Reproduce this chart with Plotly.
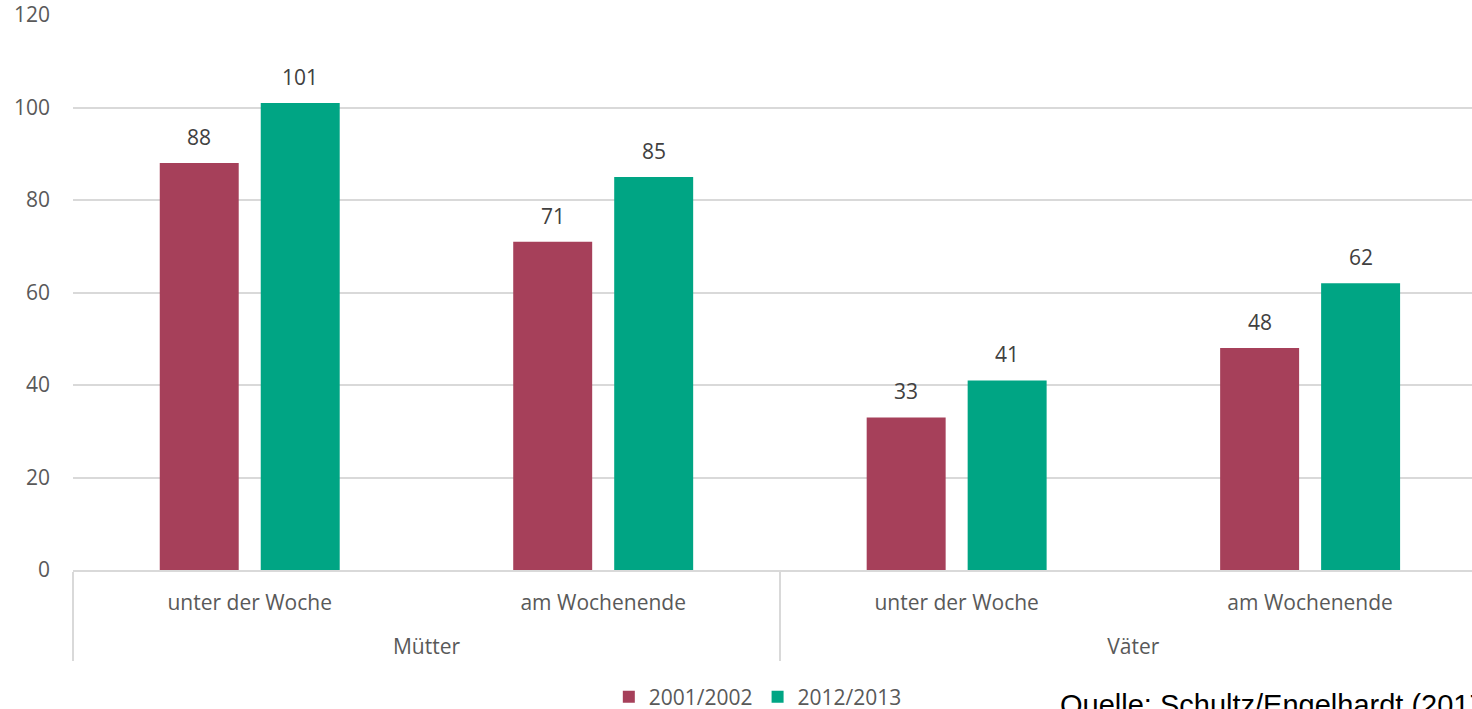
import plotly.graph_objects as go

# Betreuungszeit je Elternteil und Wochenabschnitt
parents = ["Mütter", "Mütter", "Väter", "Väter"]
periods = ["unter der Woche", "am Wochenende", "unter der Woche", "am Wochenende"]
values_2001 = [88, 71, 33, 48]
values_2012 = [101, 85, 41, 62]
series_names = ["2001/2002", "2012/2013"]
series_colors = ["#A6405A", "#00A584"]
y_ticks = [0, 20, 40, 60, 80, 100, 120]

FONT = "Open Sans"
TICK_COLOR = "#595959"
LABEL_COLOR = "#404040"
GRID = "#d9d9d9"

BARGAP = 0.4286
BARGROUPGAP = 0.218

# parent row sits one text line lower than the period row
parent_labels = ["<br>" + p for p in parents]

fig = go.Figure()
for name, vals, color in zip(series_names, [values_2001, values_2012], series_colors):
    fig.add_trace(go.Bar(
        x=[parent_labels, periods],
        y=vals,
        name=name,
        marker=dict(color=color, line=dict(width=0)),
        hoverinfo="skip",
    ))

# value labels above each bar
slot = (1 - BARGAP) / 2
offsets = [-slot / 2, slot / 2]
annotations = []
for off, vals in zip(offsets, [values_2001, values_2012]):
    for i, v in enumerate(vals):
        annotations.append(dict(
            x=i + off, y=v, xref="x", yref="y",
            text=str(v), showarrow=False,
            yanchor="bottom", yshift=10,
            font=dict(family=FONT, size=21, color=LABEL_COLOR),
        ))

annotations.append(dict(
    x=(1058 - 73) / 1399, y=-0.2108, xref="paper", yref="paper",
    xanchor="left", yanchor="top",
    text="Quelle: Schultz/Engelhardt (2017)", showarrow=False,
    font=dict(family="Liberation Sans", size=29, color="#000000"),
))

fig.update_layout(
    width=1472, height=709,
    margin=dict(l=73, r=0, t=15, b=139, autoexpand=False),
    paper_bgcolor="white", plot_bgcolor="white",
    barmode="group", bargap=BARGAP, bargroupgap=BARGROUPGAP,
    font=dict(family=FONT, size=21, color=TICK_COLOR),
    showlegend=True,
    legend=dict(
        orientation="h", x=0.383, xanchor="left",
        yref="container", y=(709 - 697) / 709, yanchor="middle",
        font=dict(family=FONT, size=21, color=TICK_COLOR),
        traceorder="normal",
    ),
    annotations=annotations,
)

fig.update_xaxes(
    type="multicategory",
    range=[-0.5, 3.458],
    automargin=False,
    showline=True, linecolor=GRID, linewidth=1.5,
    showdividers=True, dividercolor=GRID, dividerwidth=1.5,
    ticklabelstandoff=13,
    tickfont=dict(family=FONT, size=21, color=TICK_COLOR),
    showgrid=False, zeroline=False,
)
fig.update_yaxes(
    range=[0, 120], tickvals=y_ticks,
    automargin=False,
    showgrid=True, gridcolor=GRID, gridwidth=1.5,
    zeroline=False, showline=False,
    ticklabelstandoff=22,
    tickfont=dict(family=FONT, size=21, color=TICK_COLOR),
)

fig.write_html("out.html")
